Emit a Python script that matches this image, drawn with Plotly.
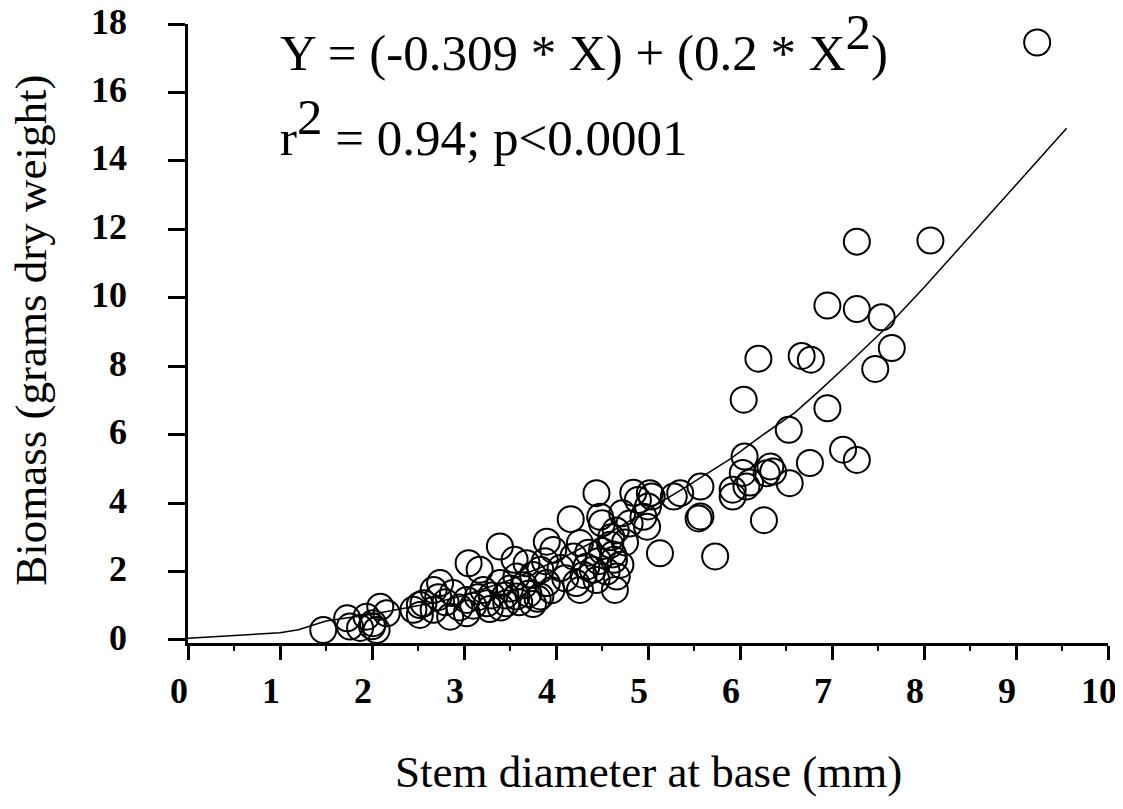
import plotly.graph_objects as go

# Observed data (stem diameter mm, biomass g dry weight)
stem_diameter = [
    1.47, 1.73, 1.76, 1.87, 1.94, 2.01, 2.05, 2.09, 2.16, 2.00,
    2.52, 2.52, 2.45, 2.56, 2.67, 2.67, 2.74, 2.85, 2.88, 2.80, 2.95, 2.72,
    3.03, 3.03, 3.05, 3.10, 3.17, 3.21, 3.25, 3.30, 3.39, 3.39, 3.46, 3.45, 3.50,
    3.55, 3.57, 3.57, 3.60, 3.40, 3.15, 3.28,
    3.68, 3.65, 3.70, 3.75, 3.80, 3.83, 3.83, 3.90, 3.90, 3.97, 3.95, 3.88, 3.75,
    4.05, 4.10, 4.16, 4.19, 4.22, 4.26, 4.26, 4.33, 4.30, 4.35, 4.44, 4.44, 4.48,
    4.50, 4.46, 4.40, 4.50,
    4.55, 4.60, 4.62, 4.64, 4.63, 4.59, 4.65, 4.66, 4.70, 4.72, 4.75, 4.80, 4.84,
    4.89, 4.95, 4.99, 5.02, 5.04, 5.00,
    5.13, 5.28, 5.35, 5.57, 5.55, 5.57, 5.73, 5.92, 5.92, 6.03, 6.04, 6.05, 6.07,
    6.11, 6.20, 6.26, 6.29, 6.33, 6.36, 6.53, 6.54, 6.67, 6.77, 6.76, 6.95, 6.95,
    7.12, 7.27, 7.27, 7.27, 7.47, 7.54, 7.65, 8.07, 9.23,
]
biomass = [
    0.29, 0.63, 0.39, 0.35, 0.68, 0.49, 0.29, 0.97, 0.78, 0.40,
    0.73, 1.02, 0.88, 1.07, 0.88, 1.46, 1.66, 0.68, 1.37, 1.10, 0.95, 1.25,
    1.17, 0.78, 2.24, 1.00, 2.05, 1.46, 1.07, 1.30, 1.66, 2.73, 1.07, 1.30, 1.50,
    2.34, 1.85, 1.27, 1.10, 0.95, 1.25, 0.90,
    2.24, 1.60, 1.35, 1.90, 1.20, 2.05, 1.27, 1.66, 2.87, 2.63, 1.45, 2.30, 1.05,
    2.10, 1.80, 3.53, 2.44, 1.66, 1.46, 2.83, 2.14, 1.90, 2.55, 4.29, 1.75, 3.60,
    3.41, 2.30, 2.05, 2.60,
    2.00, 3.00, 2.50, 1.46, 2.34, 2.78, 3.20, 1.85, 2.20, 3.70, 2.85, 3.40, 4.30,
    4.09, 3.60, 3.31, 4.29, 4.19, 3.90,
    2.53, 4.19, 4.29, 4.48, 3.55, 3.61, 2.44, 4.19, 4.39, 4.88, 7.02, 5.36, 4.48,
    4.60, 8.22, 3.50, 4.87, 5.07, 4.92, 6.14, 4.58, 8.30, 8.19, 5.17, 9.77, 6.77,
    5.56, 5.26, 9.67, 11.64, 7.92, 9.43, 8.53, 11.67, 17.46,
]

# Fitted curve as drawn in the figure
fit_x = [0, 0.5, 1.0, 1.2, 1.5, 2.0, 2.3, 2.7, 3.0, 3.5, 4.0, 4.5, 5.0, 5.4,
         5.9, 6.2, 6.6, 6.85, 7.15, 7.6, 8.0, 8.5, 9.0, 9.55]
fit_y = [0.05, 0.12, 0.21, 0.30, 0.55, 0.75, 0.90, 1.10, 1.30, 1.75, 2.30, 3.00,
         3.80, 4.45, 5.30, 5.90, 6.65, 7.25, 8.00, 9.15, 10.30, 11.80, 13.30, 14.95]

x_ticks = [0, 1, 2, 3, 4, 5, 6, 7, 8, 9, 10]
y_ticks = [0, 2, 4, 6, 8, 10, 12, 14, 16, 18]

SERIF = "Liberation Serif"

fig = go.Figure()
fig.add_trace(go.Scatter(
    x=fit_x, y=fit_y, mode="lines",
    line=dict(color="black", width=1.5),
    showlegend=False, hoverinfo="skip",
))
fig.add_trace(go.Scatter(
    x=stem_diameter, y=biomass, mode="markers",
    marker=dict(symbol="circle-open", size=26, color="black",
                line=dict(color="black", width=2)),
    showlegend=False, cliponaxis=False,
))

fig.update_layout(
    width=1123, height=809,
    margin=dict(l=180, r=23, t=16, b=174, autoexpand=False),
    paper_bgcolor="white", plot_bgcolor="white",
    font=dict(family=SERIF, color="black"),
    xaxis=dict(
        range=[0, 10], tickvals=x_ticks, ticktext=[str(v) for v in x_ticks],
        automargin=False,
        showgrid=False, zeroline=False,
        showline=True, linecolor="black", linewidth=2.5,
        ticks="outside", ticklen=14, tickwidth=2.5, tickcolor="black",
        minor=dict(dtick=0.5, ticks="outside", ticklen=5, tickwidth=2, tickcolor="black"),
        tickfont=dict(family=SERIF, size=36, weight="bold", color="black"),
        ticklabelstandoff=0, ticklabelshift=-9, ticklabeloverflow="allow",
    ),
    yaxis=dict(
        range=[-0.09, 18], tickvals=y_ticks,
        ticktext=[str(v) for v in y_ticks],
        automargin=False,
        showgrid=False, zeroline=False,
        showline=True, linecolor="black", linewidth=2.5,
        ticks="outside", ticklen=17, tickwidth=2.5, tickcolor="black",
        tickfont=dict(family=SERIF, size=36, weight="bold", color="black"),
        ticklabelstandoff=34, ticklabelshift=-3, ticklabeloverflow="allow",
    ),
    annotations=[
        dict(text="Stem diameter at base (mm)",
             xref="paper", yref="paper", x=0.5, y=-0.2084,
             xanchor="center", yanchor="middle", showarrow=False,
             font=dict(family=SERIF, size=45, color="black")),
        dict(text="Biomass (grams dry weight)", textangle=-90,
             xref="paper", yref="paper", x=-0.171, y=0.5057,
             xanchor="center", yanchor="middle", showarrow=False,
             font=dict(family=SERIF, size=45, color="black")),
        dict(text='Y = (-0.309 * X) + (0.2 * X<sup><span style="font-size:51px">2</span></sup>)',
             xref="paper", yref="paper", x=0.0978, y=0.97,
             xanchor="left", yanchor="middle", showarrow=False,
             font=dict(family=SERIF, size=51, color="black")),
        dict(text='r<sup><span style="font-size:51px">2</span></sup> = 0.94; p&lt;0.0001',
             xref="paper", yref="paper", x=0.0978, y=0.832,
             xanchor="left", yanchor="middle", showarrow=False,
             font=dict(family=SERIF, size=51, color="black")),
    ],
)

fig.write_html("out.html")
